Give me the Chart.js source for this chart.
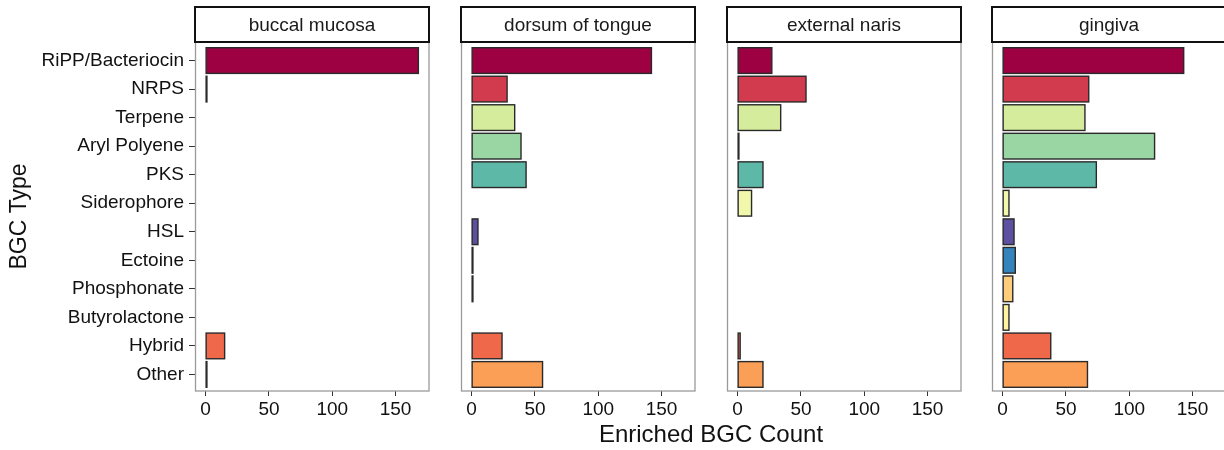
<!DOCTYPE html>
<html>
<head>
<meta charset="utf-8">
<script src="https://cdn.jsdelivr.net/npm/chart.js@4.4.0/dist/chart.umd.min.js"></script>
<style>
  html, body { margin: 0; padding: 0; background: #fff; width: 1224px; height: 450px; overflow: hidden; }
  .facet { position: absolute; top: 0; height: 450px; }
  #xtitle {
    position: absolute; left: 511px; width: 400px; top: 422px;
    text-align: center; font: 24px 'Liberation Sans', Arial, sans-serif; line-height: 24px; color: #111;
  }
</style>
</head>
<body>
<div class="facet" style="left:0px;width:432px"><canvas id="f0" width="432" height="450"></canvas></div>
<div class="facet" style="left:458px;width:240px"><canvas id="f1" width="240" height="450"></canvas></div>
<div class="facet" style="left:724px;width:240px"><canvas id="f2" width="240" height="450"></canvas></div>
<div class="facet" style="left:989px;width:240px"><canvas id="f3" width="240" height="450"></canvas></div>
<div id="xtitle">Enriched BGC Count</div>

<script>
// BGC types, top to bottom
const bgcTypes = ['RiPP/Bacteriocin', 'NRPS', 'Terpene', 'Aryl Polyene', 'PKS', 'Siderophore',
                  'HSL', 'Ectoine', 'Phosphonate', 'Butyrolactone', 'Hybrid', 'Other'];

// body sites (one facet each)
const sites = ['buccal mucosa', 'dorsum of tongue', 'external naris', 'gingiva'];

// enriched BGC counts per site, in bgcTypes order (null = none found)
const buccalMucosa   = [168, 1, null, null, null, null, null, null, null, null, 15, 1];
const dorsumOfTongue = [142, 28, 34, 39, 43, null, 5, 1, 1, null, 24, 56];
const externalNaris  = [27, 54, 34, 1, 20, 11, null, null, null, null, 2, 20];
const gingiva        = [143, 68, 65, 120, 74, 5, 9, 10, 8, 5, 38, 67];

const countTicks = [0, 50, 100, 150];

// fill colour per BGC type
const typeColors = ['#9e0142', '#d23b4e', '#d4ec9b', '#99d6a4', '#5db8a8', '#f1f8ab',
                    '#5e4fa1', '#3384bd', '#fdcd7c', '#fff3a0', '#f0684a', '#fb9f56'];

const siteCounts = [buccalMucosa, dorsumOfTongue, externalNaris, gingiva];

Chart.defaults.font.family = "'Liberation Sans', Arial, sans-serif";
Chart.defaults.color = '#111';

// shared count range: 0..max with 5% padding each side
const maxCount = Math.max(...siteCounts.flat().filter(v => v != null));
const xMin = -0.05 * maxCount, xMax = 1.05 * maxCount;

// bar outlines centred on the bar edges, so even 1-count bars read as a dark line
const barOutline = {
  id: 'barOutline',
  afterDatasetsDraw(chart) {
    const { ctx } = chart;
    ctx.save();
    ctx.strokeStyle = '#2a2a2a';
    ctx.lineWidth = 1.4;
    chart.getDatasetMeta(0).data.forEach(bar => {
      const { x, y, base, height } = bar.getProps(['x', 'y', 'base', 'height'], true);
      const left = Math.min(x, base), w = Math.abs(x - base);
      ctx.strokeRect(left, y - height / 2, w, height);
    });
    ctx.restore();
  }
};

// facet strip above the panel plus grey panel border
const facetDecor = {
  id: 'facetDecor',
  afterDatasetsDraw(chart, args, opts) {
    const { ctx, chartArea: a } = chart;
    ctx.save();
    ctx.strokeStyle = '#9a9a9a';
    ctx.lineWidth = 1.3;
    ctx.strokeRect(a.left + 0.5, a.top, a.right - a.left - 0.5, a.bottom - a.top);
    // strip
    const sTop = 7, sBot = a.top;
    ctx.fillStyle = '#fff';
    ctx.fillRect(a.left, sTop, a.right - a.left, sBot - sTop);
    ctx.strokeStyle = '#111';
    ctx.lineWidth = 2;
    ctx.strokeRect(a.left, sTop, a.right - a.left, sBot - sTop);
    ctx.fillStyle = '#1a1a1a';
    ctx.font = "19px 'Liberation Sans', Arial, sans-serif";
    ctx.textAlign = 'center';
    ctx.textBaseline = 'middle';
    ctx.fillText(opts.label, (a.left + a.right) / 2, (sTop + sBot) / 2 + 1);
    ctx.restore();
  }
};

function makeFacet(idx) {
  const first = idx === 0;
  const values = siteCounts[idx];
  const points = [];
  values.forEach((v, i) => { if (v != null) points.push({ x: v, y: i + 1 }); });

  new Chart(document.getElementById('f' + idx), {
    type: 'bar',
    data: {
      datasets: [{
        data: points,
        backgroundColor: c => typeColors[c.raw.y - 1],
        borderWidth: 0,
        barPercentage: 0.9,
        categoryPercentage: 1.0
      }]
    },
    options: {
      indexAxis: 'y',
      responsive: false,
      animation: false,
      devicePixelRatio: 1,
      layout: { padding: { top: 42, bottom: 0, left: first ? 0 : 3, right: 3 } },
      plugins: {
        legend: { display: false },
        tooltip: { enabled: false },
        facetDecor: { label: sites[idx] }
      },
      scales: {
        x: {
          type: 'linear',
          min: xMin,
          max: xMax,
          afterBuildTicks: s => { s.ticks = countTicks.map(v => ({ value: v })); },
          afterFit: s => { s.height = 59; },
          grid: { drawOnChartArea: false, drawTicks: true, tickLength: 5, color: '#333', lineWidth: 1 },
          border: { display: false },
          ticks: { font: { size: 19 }, padding: 2, color: '#111', maxRotation: 0 }
        },
        y: {
          type: 'linear',
          reverse: true,
          offset: false,
          min: 0.35,
          max: bgcTypes.length + 0.58,
          display: first,
          afterBuildTicks: s => { s.ticks = bgcTypes.map((_, i) => ({ value: i + 1 })); },
          afterFit: s => { if (first) s.width = 195; },
          grid: { offset: false, drawOnChartArea: false, drawTicks: true, tickLength: 6, color: '#333', lineWidth: 1 },
          border: { display: false },
          ticks: {
            font: { size: 19 }, padding: 5, color: '#111', autoSkip: false,
            callback: v => bgcTypes[v - 1]
          },
          title: {
            display: first, text: 'BGC Type', color: '#111',
            font: { size: 23 }, padding: { top: 6, bottom: 4 }
          }
        }
      }
    },
    plugins: [barOutline, facetDecor]
  });
}

sites.forEach((_, i) => makeFacet(i));
</script>
</body>
</html>
